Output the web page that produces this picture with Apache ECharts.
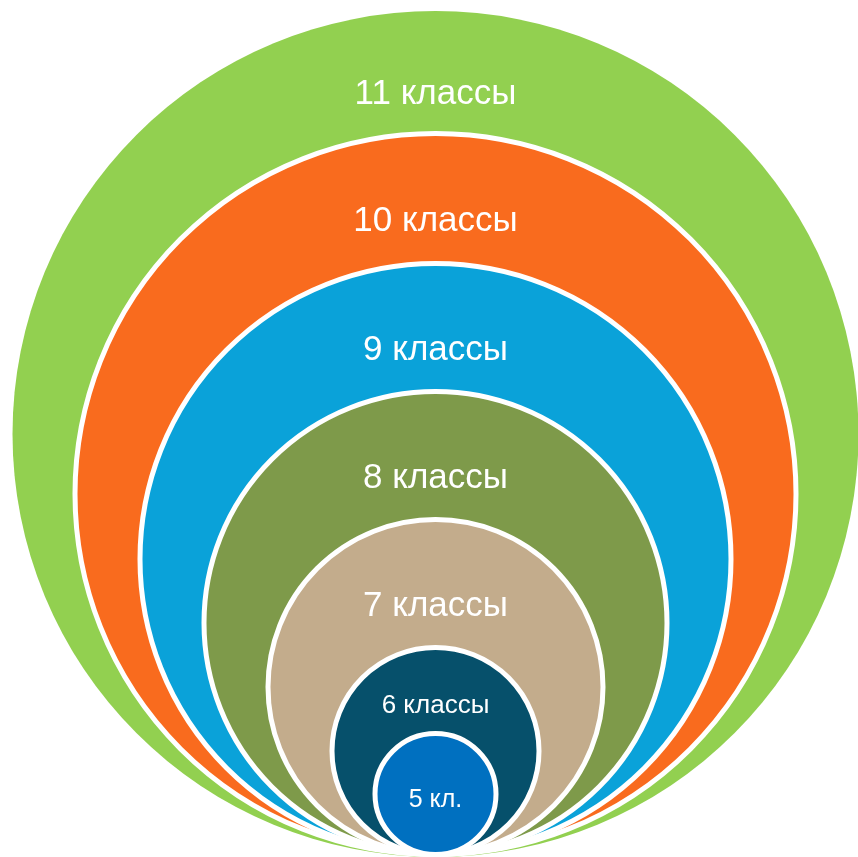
<!DOCTYPE html>
<html>
<head>
<meta charset="utf-8">
<script src="https://cdn.jsdelivr.net/npm/echarts@6/dist/echarts.min.js"></script>
<style>
html,body{margin:0;padding:0;background:#fff;}
#chart{width:858px;height:857px;}
</style>
</head>
<body>
<div id="chart"></div>
<script>
// Nested circles, outermost first (all tangent at the bottom)
const classLabels = ['11 классы', '10 классы', '9 классы', '8 классы', '7 классы', '6 классы', '5 кл.'];
const diameters   = [846, 726, 596, 468, 340, 212, 126];   // outer diameter in chart units
const centerX     = 435.5;
const colors      = ['#92D050', '#F96B1E', '#0AA2D9', '#7E9A4A', '#C3AC8C', '#06506B', '#0070C0'];
const fontSizes   = [35, 35, 35, 35, 35, 26, 25];

const data = classLabels.map((name, i) => ({
  name: name,
  value: [centerX, diameters[i], i]
}));

const chart = echarts.init(document.getElementById('chart'), null, {renderer: 'canvas'});
const STROKE = 5;

chart.setOption({
  animation: false,
  backgroundColor: '#ffffff',
  grid: {left: 0, right: 0, top: 0, bottom: 0},
  xAxis: {type: 'value', min: 0, max: 858, show: false},
  yAxis: {type: 'value', min: 0, max: 857, show: false},
  series: [{
    type: 'custom',
    coordinateSystem: 'cartesian2d',
    data: data,
    renderItem: function (params, api) {
      const cx = api.value(0);
      const d = api.value(1);
      const i = api.value(2);
      const center = api.coord([cx, d / 2]);
      const rOuter = api.size([d / 2, d / 2])[0];
      const r = i === 0 ? rOuter : rOuter - STROKE / 2;
      // label position: between this circle's top and the next circle's top
      let labelY;
      if (i < diameters.length - 1) {
        const next = diameters[i + 1];
        labelY = d - 0.68 * (d - next) - 2;
      } else {
        labelY = d / 2 - 6;
      }
      const lp = api.coord([cx, labelY]);
      return {
        type: 'group',
        children: [{
          type: 'circle',
          shape: {cx: center[0], cy: center[1], r: r},
          style: {fill: colors[i], stroke: '#ffffff', lineWidth: i === 0 ? 0 : STROKE}
        }, {
          type: 'text',
          x: lp[0],
          y: lp[1],
          style: {
            text: classLabels[i],
            fill: '#ffffff',
            fontFamily: '"Liberation Sans", Arial, sans-serif',
            fontSize: fontSizes[i],
            align: 'center',
            verticalAlign: 'middle'
          }
        }]
      };
    }
  }]
});
</script>
</body>
</html>
